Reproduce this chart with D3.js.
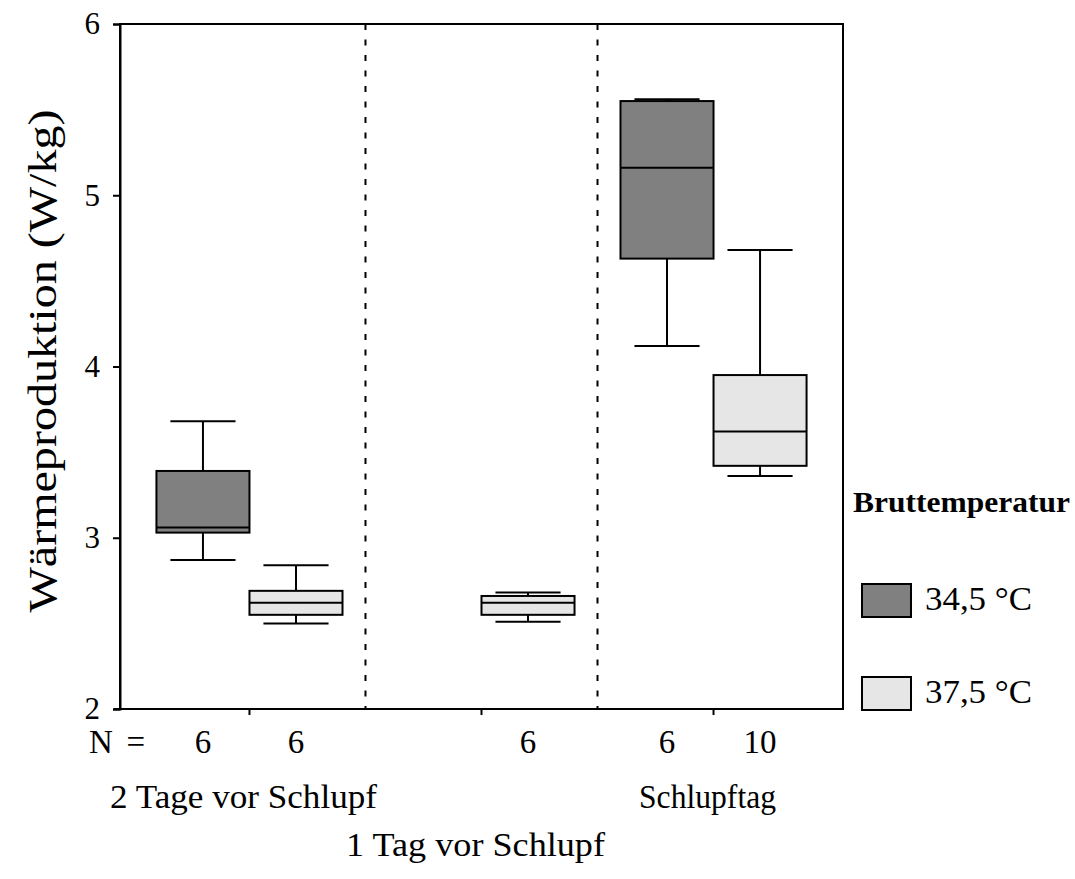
<!DOCTYPE html>
<html>
<head>
<meta charset="utf-8">
<script src="https://cdn.jsdelivr.net/npm/d3@7"></script>
<style>
  body { margin: 0; background: #fff; }
  svg { display: block; }
  text { font-family: "Liberation Serif", "DejaVu Serif", serif; fill: #000; }
</style>
</head>
<body>
<div id="chart"></div>
<script>
const groups = ["2 Tage vor Schlupf", "1 Tag vor Schlupf", "Schlupftag"];
const temps = ["34,5 °C", "37,5 °C"];
const tempColors = ["#808080", "#e6e6e6"];
const yTicks = [2, 3, 4, 5, 6];

// one entry per box
const boxGroup = ["2 Tage vor Schlupf", "2 Tage vor Schlupf", "1 Tag vor Schlupf", "Schlupftag", "Schlupftag"];
const boxTemp = ["34,5 °C", "37,5 °C", "37,5 °C", "34,5 °C", "37,5 °C"];
const boxN = [6, 6, 6, 6, 10];
const whiskerLow = [2.87, 2.50, 2.51, 4.12, 3.36];
const q1 = [3.03, 2.55, 2.55, 4.63, 3.42];
const medians = [3.06, 2.62, 2.62, 5.16, 3.62];
const q3 = [3.39, 2.69, 2.66, 5.55, 3.95];
const whiskerHigh = [3.68, 2.84, 2.68, 5.56, 4.68];

const serif = '"Liberation Serif", "DejaVu Serif", serif';
const width = 1075, height = 879;
const plotL = 120, plotR = 843, plotT = 24, plotB = 709;

const svg = d3.select("#chart").append("svg")
  .attr("width", width)
  .attr("height", height);

const x0 = d3.scaleBand().domain(groups).range([plotL, plotR]).paddingOuter(0.058).paddingInner(0);
const x1 = d3.scaleBand().domain(temps).range([0, x0.bandwidth()]).paddingOuter(0.247).paddingInner(0);
const y = d3.scaleLinear().domain([2, 6]).range([plotB, plotT]);
const color = d3.scaleOrdinal().domain(temps).range(tempColors);

// frame
svg.append("rect")
  .attr("x", plotL).attr("y", plotT)
  .attr("width", plotR - plotL).attr("height", plotB - plotT)
  .attr("fill", "none").attr("stroke", "#000").attr("stroke-width", 2);

// group separators
groups.slice(1).forEach(g => {
  svg.append("line")
    .attr("x1", x0(g)).attr("x2", x0(g))
    .attr("y1", plotT).attr("y2", plotB)
    .attr("stroke", "#000").attr("stroke-width", 2)
    .attr("stroke-dasharray", "6,9.5");
});

// y axis
const yAxis = svg.append("g")
  .attr("transform", `translate(${plotL},0)`)
  .call(d3.axisLeft(y).tickValues(yTicks).tickSize(7).tickPadding(13).tickFormat(d3.format("d")));
yAxis.attr("font-family", serif);
yAxis.select(".domain").attr("stroke-width", 2);
yAxis.selectAll(".tick line").attr("stroke-width", 2);
yAxis.selectAll(".tick text").style("font-size", "31px");

// x axis (ticks only)
const xAxis = svg.append("g")
  .attr("transform", `translate(0,${plotB})`)
  .call(d3.axisBottom(x0).tickSize(6).tickFormat(""));
xAxis.select(".domain").attr("d", `M${plotL - 6},0H${plotR}`).attr("stroke-width", 2);
xAxis.selectAll(".tick line").attr("stroke-width", 2);

// boxes
const boxes = boxGroup.map((g, i) => ({
  g, t: boxTemp[i], n: boxN[i],
  lo: whiskerLow[i], q1: q1[i], med: medians[i], q3: q3[i], hi: whiskerHigh[i]
}));
const bw = x1.bandwidth();
const capW = bw * 0.7;

const box = svg.append("g").selectAll("g").data(boxes).join("g")
  .attr("transform", d => `translate(${x0(d.g) + x1(d.t)},0)`);

box.append("line")
  .attr("x1", bw / 2).attr("x2", bw / 2)
  .attr("y1", d => y(d.hi)).attr("y2", d => y(d.q3))
  .attr("stroke", "#000").attr("stroke-width", 2);
box.append("line")
  .attr("x1", bw / 2).attr("x2", bw / 2)
  .attr("y1", d => y(d.q1)).attr("y2", d => y(d.lo))
  .attr("stroke", "#000").attr("stroke-width", 2);
box.append("line")
  .attr("x1", (bw - capW) / 2).attr("x2", (bw + capW) / 2)
  .attr("y1", d => y(d.hi)).attr("y2", d => y(d.hi))
  .attr("stroke", "#000").attr("stroke-width", 2);
box.append("line")
  .attr("x1", (bw - capW) / 2).attr("x2", (bw + capW) / 2)
  .attr("y1", d => y(d.lo)).attr("y2", d => y(d.lo))
  .attr("stroke", "#000").attr("stroke-width", 2);
box.append("rect")
  .attr("x", 0).attr("width", bw)
  .attr("y", d => y(d.q3)).attr("height", d => y(d.q1) - y(d.q3))
  .attr("fill", d => color(d.t))
  .attr("stroke", "#000").attr("stroke-width", 2);
box.append("line")
  .attr("x1", 0).attr("x2", bw)
  .attr("y1", d => y(d.med)).attr("y2", d => y(d.med))
  .attr("stroke", "#000").attr("stroke-width", 2);

// N row
svg.append("text")
  .attr("x", 89).attr("y", 753)
  .style("font-size", "33px")
  .attr("textLength", 56)
  .text("N =");
box.append("text")
  .attr("x", bw / 2).attr("y", 753)
  .attr("text-anchor", "middle")
  .style("font-size", "33px")
  .text(d => d.n);

// group labels (staggered)
const labelRow = [808, 856, 808];
const labelWidth = [267, 259, 137];
svg.append("g").selectAll("text").data(groups).join("text")
  .attr("x", d => x0(d) + x0.bandwidth() / 2 - 6)
  .attr("y", (d, i) => labelRow[i])
  .attr("text-anchor", "middle")
  .attr("textLength", (d, i) => labelWidth[i])
  .attr("lengthAdjust", "spacingAndGlyphs")
  .style("font-size", "34px")
  .text(d => d);

// y axis title
svg.append("text")
  .attr("transform", "translate(56,361) rotate(-90)")
  .attr("text-anchor", "middle")
  .attr("textLength", 503)
  .attr("lengthAdjust", "spacingAndGlyphs")
  .style("font-size", "40px")
  .text("Wärmeproduktion (W/kg)");

// legend
const legend = svg.append("g");
legend.append("text")
  .attr("x", 853).attr("y", 512)
  .attr("textLength", 217)
  .attr("lengthAdjust", "spacingAndGlyphs")
  .style("font-size", "30px").style("font-weight", "bold")
  .text("Bruttemperatur");
const legendRow = [584, 677];
const item = legend.selectAll("g").data(temps).join("g")
  .attr("transform", (d, i) => `translate(862,${legendRow[i]})`);
item.append("rect")
  .attr("width", 49).attr("height", 33)
  .attr("fill", d => color(d))
  .attr("stroke", "#000").attr("stroke-width", 2);
item.append("text")
  .attr("x", 63).attr("y", 26)
  .attr("textLength", 107)
  .attr("lengthAdjust", "spacingAndGlyphs")
  .style("font-size", "34px")
  .text(d => d);
</script>
</body>
</html>
